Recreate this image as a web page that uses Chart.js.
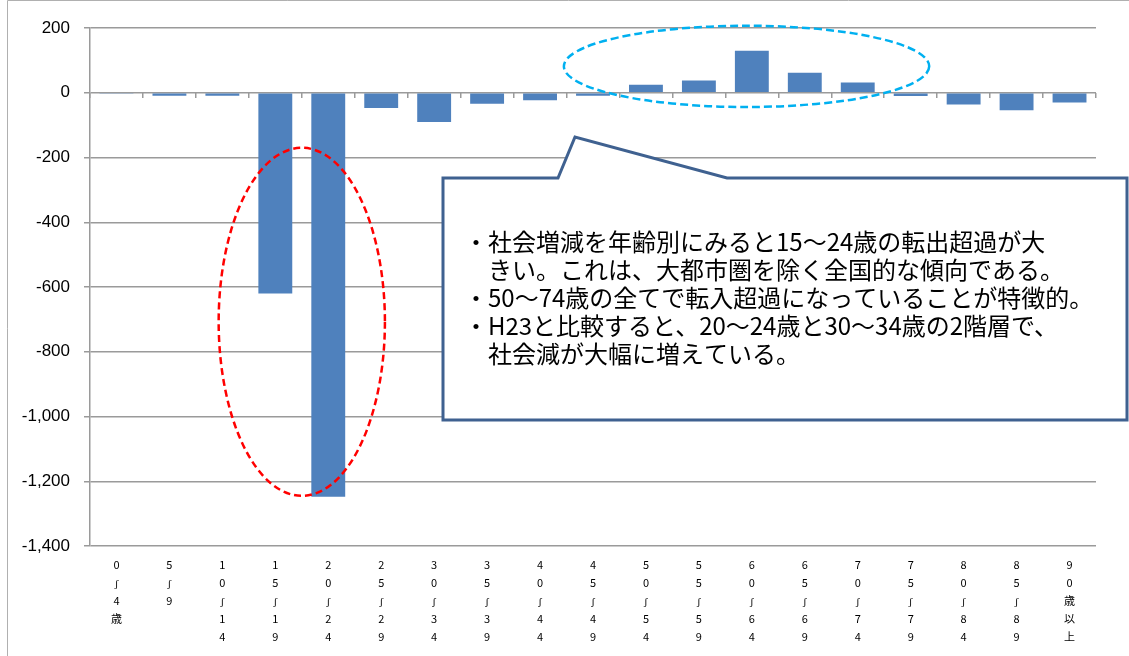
<!DOCTYPE html>
<html>
<head>
<meta charset="utf-8">
<script src="https://cdn.jsdelivr.net/npm/chart.js@4/dist/chart.umd.min.js"></script>
<style>
  html, body { margin: 0; padding: 0; background: #fff; }
  canvas { display: block; }
</style>
</head>
<body>
<canvas id="ageChart" width="1129" height="656"></canvas>
<script>
// 年齢階級
const ageGroups = ['0～4歳', '5～9', '10～14', '15～19', '20～24', '25～29', '30～34', '35～39', '40～44',
    '45～49', '50～54', '55～59', '60～64', '65～69', '70～74', '75～79', '80～84', '85～89', '90歳以上'];
// 社会増減（人）
const socialChange = [-3, -9, -9, -620, -1248, -47, -90, -34, -23, -9, 25, 38, 130, 62, 32, -10, -36, -54, -30];
// 縦軸
const yMin = -1400;
const yMax = 200;
const yStep = 200;
// 吹き出しの文
const noteLines = [
    '・社会増減を年齢別にみると15～24歳の転出超過が大',
    '　きい。これは、大都市圏を除く全国的な傾向である。',
    '・50～74歳の全てで転入超過になっていることが特徴的。',
    '・H23と比較すると、20～24歳と30～34歳の2階層で、',
    '　社会減が大幅に増えている。'
];

const gridColor = '#9a9a9a';

/* 枠・楕円・吹き出しを描くプラグイン */
const notePlugin = {
    id: 'notes',
    beforeDraw(chart) {
        const ctx = chart.ctx;
        ctx.save();
        ctx.strokeStyle = '#b0b0b0';
        ctx.lineWidth = 1;
        ctx.beginPath();
        ctx.moveTo(7.5, 656);
        ctx.lineTo(7.5, 0.5);
        ctx.lineTo(1129, 0.5);
        ctx.stroke();
        ctx.restore();
    },
    afterDatasetsDraw(chart) {
        const ctx = chart.ctx;
        const x = chart.scales.x;
        const y = chart.scales.y;
        const cw = x.getPixelForValue(1) - x.getPixelForValue(0);

        function ellipse(cx, cy, rx, ry, color, dash) {
            ctx.save();
            ctx.strokeStyle = color;
            ctx.lineWidth = 2.5;
            ctx.setLineDash(dash);
            ctx.beginPath();
            ctx.ellipse(cx, cy, rx, ry, 0, 0, Math.PI * 2);
            ctx.stroke();
            ctx.restore();
        }

        // 15～24歳を囲む赤い楕円
        const rcx = (x.getPixelForValue(3) + x.getPixelForValue(4)) / 2;
        const rTop = y.getPixelForValue(-170);
        const rBot = y.getPixelForValue(-1245);
        ellipse(rcx, (rTop + rBot) / 2, cw * 1.57, (rBot - rTop) / 2, '#ff0000', [7, 4]);

        // 50～74歳を囲む青い楕円
        const bcx = x.getPixelForValue(11.9);
        const bTop = y.getPixelForValue(207);
        const bBot = y.getPixelForValue(-44);
        ellipse(bcx, (bTop + bBot) / 2, cw * 3.45, (bBot - bTop) / 2, '#00b0f0', [8, 4]);
    },
    afterDraw(chart) {
        const ctx = chart.ctx;
        ctx.save();
        ctx.beginPath();
        ctx.moveTo(443, 178);
        ctx.lineTo(558, 178);
        ctx.lineTo(575, 137);
        ctx.lineTo(727, 178);
        ctx.lineTo(1127, 178);
        ctx.lineTo(1127, 420);
        ctx.lineTo(443, 420);
        ctx.closePath();
        ctx.fillStyle = '#ffffff';
        ctx.fill();
        ctx.strokeStyle = '#3f6190';
        ctx.lineWidth = 3;
        ctx.lineJoin = 'miter';
        ctx.stroke();

        ctx.fillStyle = '#000';
        ctx.font = '24px "Noto Sans CJK JP"';
        ctx.textBaseline = 'middle';
        ctx.textAlign = 'left';
        for (let i = 0; i < noteLines.length; i++) {
            ctx.fillText(noteLines[i], 464, 242 + i * 28);
        }
        ctx.restore();
    }
};

const ctx = document.getElementById('ageChart');

new Chart(ctx, {
    type: 'bar',
    data: {
        labels: ageGroups,
        datasets: [{
            data: socialChange,
            backgroundColor: '#4f81bd',
            borderWidth: 0,
            barPercentage: 0.64,
            categoryPercentage: 1.0
        }]
    },
    options: {
        responsive: false,
        devicePixelRatio: 1,
        animation: false,
        layout: {
            padding: { left: 0, top: 28, right: 33, bottom: 0 }
        },
        plugins: {
            legend: { display: false },
            tooltip: { enabled: false }
        },
        scales: {
            x: {
                position: 'bottom',
                offset: true,
                grid: { display: false, drawTicks: false },
                border: { display: false },
                ticks: {
                    autoSkip: false,
                    maxRotation: 0,
                    minRotation: 0,
                    padding: 10,
                    color: '#000',
                    font: { family: '"Noto Sans CJK JP"', size: 11, lineHeight: 1.64 },
                    callback: function (value, index) {
                        /* 縦書き風に1文字ずつ並べる（～は縦向きの波に） */
                        return ageGroups[index].split('').map(c => c === '～' ? 'ʃ' : c);
                    }
                },
                afterFit: function (scale) { scale.height = 110; }
            },
            x2: {
                type: 'category',
                position: { y: 0 },
                offset: true,
                grid: {
                    offset: true,
                    drawOnChartArea: false,
                    drawTicks: true,
                    tickLength: 5,
                    color: gridColor,
                    lineWidth: 1.5
                },
                border: { display: false },
                ticks: { display: false }
            },
            y: {
                min: yMin,
                max: yMax,
                grid: {
                    color: gridColor,
                    lineWidth: 1.5,
                    tickLength: 6
                },
                border: { display: true, color: gridColor, width: 1.5 },
                ticks: {
                    stepSize: yStep,
                    padding: 14,
                    color: '#000',
                    font: { family: '"Liberation Sans"', size: 17 },
                    callback: function (value) {
                        return value.toLocaleString('en-US');
                    }
                },
                afterFit: function (scale) { scale.width = 90; }
            }
        }
    },
    plugins: [notePlugin]
});
</script>
</body>
</html>
